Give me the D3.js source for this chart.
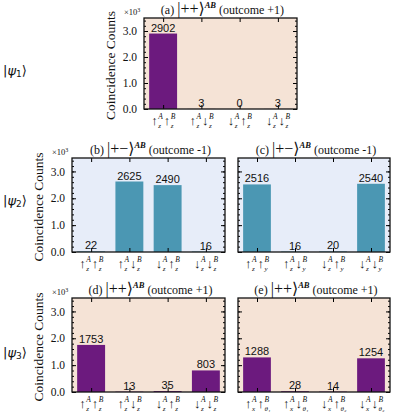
<!DOCTYPE html>
<html lang="en">
<head>
<meta charset="utf-8">
<title>Coincidence counts</title>
<script src="https://d3js.org/d3.v7.min.js"></script>
<style>
  body { margin: 0; background: #fff; }
  svg text { fill: #111; }
  .serif { font-family: "Liberation Serif", "DejaVu Serif", serif; }
  .sans { font-family: "Liberation Sans", Arial, sans-serif; }
</style>
</head>
<body>
<div id="chart"></div>
<script>
// tick labels: [arrowA, subA, arrowB, subB]
var labelsZZ = [["↑","z","↑","z"], ["↑","z","↓","z"], ["↓","z","↑","z"], ["↓","z","↓","z"]];
var labelsZY = [["↑","z","↑","y"], ["↑","z","↓","y"], ["↓","z","↑","y"], ["↓","z","↓","y"]];
var labelsXT = [["↑","x","↑","θ₁"], ["↑","x","↓","θ₁"], ["↓","x","↑","θ₂"], ["↓","x","↓","θ₂"]];

var valuesA = [2902, 3, 0, 3];
var valuesB = [22, 2625, 2490, 16];
var valuesC = [2516, 16, 20, 2540];
var valuesD = [1753, 13, 35, 803];
var valuesE = [1288, 28, 14, 1254];

var yTicks = [0, 1000, 2000, 3000];

var peach = "#f5e3d6", blueBg = "#e7edf9";
var purple = "#6c1a7e", teal = "#4b97b3";

var svg = d3.select("#chart").append("svg")
    .attr("width", 399).attr("height", 415);

var panels = [
  {id: "(a)", ket: "|++⟩", out: "(outcome +1)", vals: valuesA, labs: labelsZZ, x: 144, y: 18, w: 153, h: 91, bg: peach, col: purple, yAxis: true},
  {id: "(b)", ket: "|+−⟩", out: "(outcome -1)", vals: valuesB, labs: labelsZZ, x: 72, y: 158, w: 153, h: 94, bg: blueBg, col: teal, yAxis: true},
  {id: "(c)", ket: "|+−⟩", out: "(outcome -1)", vals: valuesC, labs: labelsZY, x: 238, y: 158, w: 152, h: 94, bg: blueBg, col: teal, yAxis: false},
  {id: "(d)", ket: "|++⟩", out: "(outcome +1)", vals: valuesD, labs: labelsZZ, x: 72, y: 298, w: 153, h: 94, bg: peach, col: purple, yAxis: true},
  {id: "(e)", ket: "|++⟩", out: "(outcome +1)", vals: valuesE, labs: labelsXT, x: 238, y: 298, w: 152, h: 94, bg: peach, col: purple, yAxis: false}
];

panels.forEach(function(p) {
  var g = svg.append("g").attr("transform", "translate(" + p.x + "," + p.y + ")");

  var x = d3.scaleBand().domain(d3.range(4)).range([0, p.w]).paddingInner(0.27).paddingOuter(0.135);
  var xc = d3.scaleBand().domain(d3.range(4)).range([0, p.w]);
  var y = d3.scaleLinear().domain([0, 3500]).range([p.h, 0]);

  g.append("rect").attr("width", p.w).attr("height", p.h).attr("fill", p.bg);

  g.selectAll("rect.bar").data(p.vals).enter().append("rect")
    .attr("class", "bar")
    .attr("x", function(d, i) { return x(i); })
    .attr("y", function(d) { return y(d); })
    .attr("width", x.bandwidth())
    .attr("height", function(d) { return p.h - y(d); })
    .attr("fill", p.col);

  // minor y ticks
  var minor = d3.range(0, 3501, 200);
  g.append("g").call(d3.axisLeft(y).tickValues(minor).tickSize(-2).tickFormat(""))
    .call(function(a) { a.select(".domain").remove(); });
  g.append("g").attr("transform", "translate(" + p.w + ",0)")
    .call(d3.axisRight(y).tickValues(minor).tickSize(-2).tickFormat(""))
    .call(function(a) { a.select(".domain").remove(); });

  // major y ticks
  var left = g.append("g").call(d3.axisLeft(y).tickValues(yTicks).tickSize(-4).tickPadding(7)
      .tickFormat(function(d) { return p.yAxis ? d3.format(".1f")(d / 1000) : ""; }));
  left.attr("font-family", null);
  left.selectAll("text").attr("class", "serif").attr("font-size", 11.5);
  left.select(".domain").remove();
  g.append("g").attr("transform", "translate(" + p.w + ",0)")
    .call(d3.axisRight(y).tickValues(yTicks).tickSize(-4).tickFormat(""))
    .select(".domain").remove();

  // x ticks top and bottom at category centres
  var xa = d3.scalePoint().domain(d3.range(4)).range([xc.bandwidth() / 2, p.w - xc.bandwidth() / 2]);
  g.append("g").attr("transform", "translate(0," + p.h + ")")
    .call(d3.axisBottom(xa).tickSize(-4).tickFormat(""))
    .select(".domain").remove();
  g.append("g").call(d3.axisTop(xa).tickSize(-4).tickFormat(""))
    .select(".domain").remove();

  g.append("rect").attr("width", p.w).attr("height", p.h)
    .attr("fill", "none").attr("stroke", "#111").attr("stroke-width", 1.3);

  // value labels
  g.selectAll("text.val").data(p.vals).enter().append("text")
    .attr("class", "val sans")
    .attr("x", function(d, i) { return xa(i); })
    .attr("y", function(d) { return y(d) - 2; })
    .attr("text-anchor", "middle")
    .attr("font-size", 11)
    .text(function(d) { return d; });

  // category labels, one text per category
  p.labs.forEach(function(l, i) {
    var cx = xa(i) - 12;
    var ty = p.h + 15;
    var lt = g.append("text").attr("class", "serif").attr("x", cx).attr("y", ty).attr("font-size", 8);
    [0, 1].forEach(function(k) {
      var bx = cx + k * 12.5;
      lt.append("tspan").attr("x", bx).attr("y", ty + 1).attr("font-size", 13).text(l[k * 2]);
      lt.append("tspan").attr("x", bx + 7).attr("y", ty - 5).attr("font-size", 7.5)
        .attr("font-style", "italic").text(k === 0 ? "A" : "B");
      lt.append("tspan").attr("x", bx + 7).attr("y", ty + 3.5).attr("font-size", 7)
        .attr("font-style", "italic").text(l[k * 2 + 1]);
    });
  });

  // title
  var t = g.append("text").attr("class", "serif").attr("x", p.w / 2 + 2).attr("y", -4)
    .attr("text-anchor", "middle").attr("font-size", 12);
  t.append("tspan").text(p.id + " ");
  t.append("tspan").attr("font-size", 16).text(p.ket);
  t.append("tspan").attr("font-size", 8.5).attr("font-style", "italic").attr("font-weight", "bold")
    .attr("dy", -6).text("AB");
  t.append("tspan").attr("dy", 6).text("  " + p.out);

  if (p.yAxis) {
    g.append("text").attr("class", "serif")
      .attr("transform", "translate(-29," + (p.h / 2 + 2) + ") rotate(-90)")
      .attr("text-anchor", "middle").attr("font-size", 13.5)
      .text("Coincidence Counts");
    var m = g.append("text").attr("class", "serif").attr("x", -20).attr("y", -3).attr("font-size", 8.5);
    m.append("tspan").text("×10");
    m.append("tspan").attr("font-size", 6).attr("dy", -3).text("3");
  }
});

// state labels
var states = [{s: "1", y: 75}, {s: "2", y: 205}, {s: "3", y: 357}];
states.forEach(function(d) {
  var t = svg.append("text").attr("x", 3).attr("y", d.y)
    .style("font-family", "'DejaVu Sans', sans-serif").attr("font-size", 13);
  t.append("tspan").text("|");
  t.append("tspan").attr("font-style", "italic").text("ψ");
  t.append("tspan").attr("font-size", 9).attr("dy", 2).text(d.s);
  t.append("tspan").attr("dy", -2).text("⟩");
});
</script>
</body>
</html>
